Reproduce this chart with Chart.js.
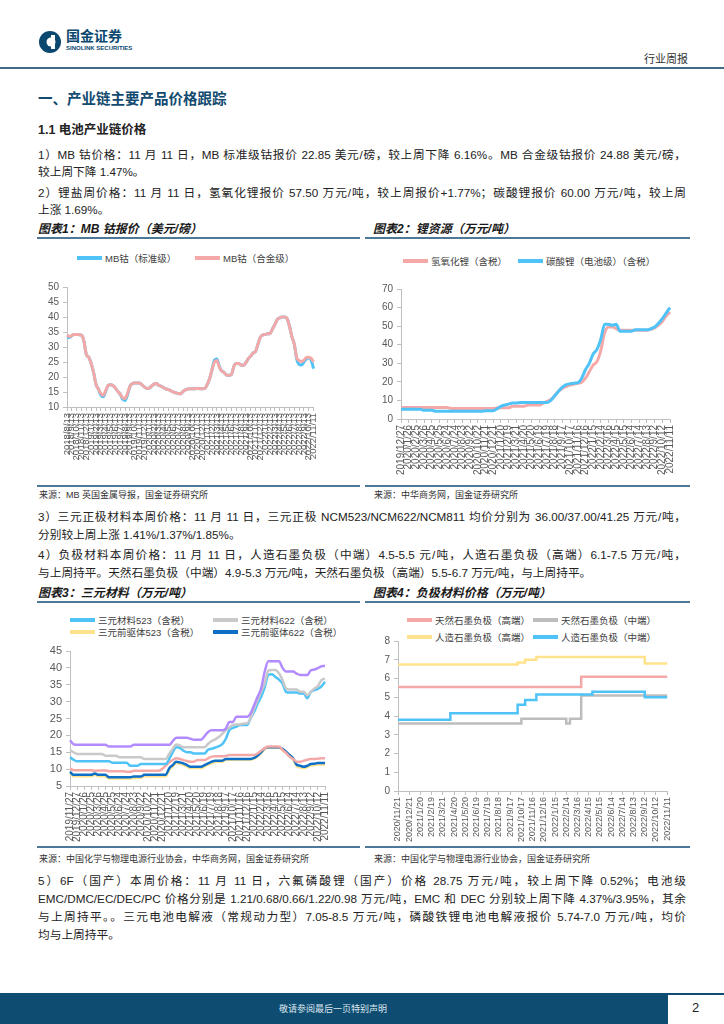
<!DOCTYPE html>
<html>
<head>
<meta charset="utf-8">
<script src="https://cdn.jsdelivr.net/npm/chart.js@4.4.0/dist/chart.umd.min.js"></script>
<style>
body { margin: 0; background: #fff; }
#page { position: relative; width: 724px; height: 1024px; overflow: hidden; background: #fff;
  font-family: "Liberation Sans", "Noto Sans CJK SC", sans-serif; color: #222; }
.a { position: absolute; white-space: nowrap; }
.txt { position: absolute; left: 38px; width: 648px; font-size: 11.7px; line-height: 14px; white-space: nowrap; }
.full { text-align: justify; text-align-last: justify; }
.cap { position: absolute; font-size: 12px; font-weight: bold; font-style: italic; line-height: 14px; color: #1a1a1a; }
.rule { position: absolute; height: 2px; background: #4d7898; }
.src { position: absolute; font-size: 9px; line-height: 10px; color: #333; }
.lg { position: absolute; font-size: 9.5px; line-height: 12px; color: #404040; white-space: nowrap; }
.lg i { display: inline-block; width: 25px; height: 4px; vertical-align: middle; margin-right: 3px; position: relative; top: -1px; }
.box { position: absolute; }
</style>
</head>
<body>
<div id="page">
  <!-- header -->
  <svg class="a" style="left:38px;top:30px" width="26" height="24">
    <circle cx="12" cy="12" r="11" fill="#0b4870"/>
    <circle cx="13" cy="12" r="4.5" fill="#fff"/>
    <rect x="13" y="5" width="4" height="14" fill="#fff"/>
  </svg>
  <div class="a" style="left:66px;top:27px;font-size:14px;font-weight:bold;color:#0b4870;line-height:16px;font-family:'Noto Sans CJK SC'">国金证券</div>
  <div class="a" style="left:66px;top:45px;font-size:6px;font-weight:bold;color:#0b4870;line-height:7px">SINOLINK SECURITIES</div>
  <div class="a" style="left:644px;top:52px;font-size:11px;color:#333;line-height:13px;font-family:'Noto Sans CJK SC'">行业周报</div>
  <div class="a" style="left:0;top:67px;width:724px;height:2px;background:#41698a"></div>

  <div class="a" style="left:38px;top:89px;font-size:14.5px;font-weight:bold;color:#134a70;line-height:18px;font-family:'Noto Sans CJK SC'">一、产业链主要产品价格跟踪</div>
  <div class="a" style="left:38px;top:123px;font-size:12.5px;font-weight:bold;color:#222;line-height:15px">1.1 电池产业链价格</div>

  <div class="txt full" style="top:148px">1）MB 钴价格：11 月 11 日，MB 标准级钴报价 22.85 美元/磅，较上周下降 6.16%。MB 合金级钴报价 24.88 美元/磅，</div>
  <div class="txt" style="top:165px">较上周下降 1.47%。</div>
  <div class="txt full" style="top:186px">2）锂盐周价格：11 月 11 日，氢氧化锂报价 57.50 万元/吨，较上周报价+1.77%；碳酸锂报价 60.00 万元/吨，较上周</div>
  <div class="txt" style="top:203px">上涨 1.69%。</div>

  <!-- captions row 1 -->
  <div class="cap" style="left:38px;top:222px">图表1：MB 钴报价（美元/磅）</div>
  <div class="rule" style="left:37px;top:237px;width:323px"></div>
  <div class="cap" style="left:373px;top:222px">图表2：锂资源（万元/吨）</div>
  <div class="rule" style="left:365px;top:237px;width:325px"></div>

  <div class="lg" style="left:77px;top:253px"><i style="background:#4fc3f7"></i>MB钴（标准级）</div>
  <div class="lg" style="left:195px;top:253px"><i style="background:#f4a9a8"></i>MB钴（合金级）</div>
  <div class="lg" style="left:403px;top:256px"><i style="background:#f4a9a8"></i>氢氧化锂（含税）</div>
  <div class="lg" style="left:518px;top:256px"><i style="background:#4fc3f7"></i>碳酸锂（电池级）（含税）</div>

  <div class="box" style="left:37px;top:270px;width:290px;height:195px"><canvas id="c1"></canvas></div>
  <div class="box" style="left:365px;top:270px;width:319px;height:208px"><canvas id="c2"></canvas></div>

  <div class="rule" style="left:37px;top:485px;width:323px"></div>
  <div class="rule" style="left:365px;top:485px;width:325px"></div>
  <div class="src" style="left:39px;top:490px">来源：MB 英国金属导报，国金证券研究所</div>
  <div class="src" style="left:374px;top:490px">来源：中华商务网，国金证券研究所</div>

  <div class="txt full" style="top:510px">3）三元正极材料本周价格：11 月 11 日，三元正极 NCM523/NCM622/NCM811 均价分别为 36.00/37.00/41.25 万元/吨，</div>
  <div class="txt" style="top:528px">分别较上周上涨 1.41%/1.37%/1.85%。</div>
  <div class="txt full" style="top:548px">4）负极材料本周价格：11 月 11 日，人造石墨负极（中端）4.5-5.5 元/吨，人造石墨负极（高端）6.1-7.5 万元/吨，</div>
  <div class="txt" style="top:566px">与上周持平。天然石墨负极（中端）4.9-5.3 万元/吨，天然石墨负极（高端）5.5-6.7 万元/吨，与上周持平。</div>

  <!-- captions row 2 -->
  <div class="cap" style="left:38px;top:586px">图表3：三元材料（万元/吨）</div>
  <div class="rule" style="left:37px;top:601px;width:323px"></div>
  <div class="cap" style="left:373px;top:586px">图表4：负极材料价格（万元/吨）</div>
  <div class="rule" style="left:365px;top:601px;width:325px"></div>

  <div class="lg" style="left:70px;top:615px"><i style="background:#4fc3f7"></i>三元材料523（含税）</div>
  <div class="lg" style="left:213px;top:615px"><i style="background:#c9c9c9"></i>三元材料622（含税）</div>
  <div class="lg" style="left:70px;top:627px"><i style="background:#ffe38c"></i>三元前驱体523（含税）</div>
  <div class="lg" style="left:213px;top:627px"><i style="background:#0f6fc6"></i>三元前驱体622（含税）</div>

  <div class="lg" style="left:407px;top:615px"><i style="background:#f4a9a8"></i>天然石墨负极（高端）</div>
  <div class="lg" style="left:533px;top:615px"><i style="background:#bdbdbd"></i>天然石墨负极（中端）</div>
  <div class="lg" style="left:407px;top:632px"><i style="background:#ffe38c"></i>人造石墨负极（高端）</div>
  <div class="lg" style="left:533px;top:632px"><i style="background:#4fc3f7"></i>人造石墨负极（中端）</div>

  <div class="box" style="left:37px;top:640px;width:302px;height:205px"><canvas id="c3"></canvas></div>
  <div class="box" style="left:365px;top:630px;width:315px;height:212px"><canvas id="c4"></canvas></div>

  <div class="rule" style="left:37px;top:846px;width:323px"></div>
  <div class="rule" style="left:365px;top:846px;width:325px"></div>
  <div class="src" style="left:39px;top:854px">来源：中国化学与物理电源行业协会，中华商务网，国金证券研究所</div>
  <div class="src" style="left:374px;top:854px">来源：中国化学与物理电源行业协会，国金证券研究所</div>

  <div class="txt full" style="top:874px">5）6F（国产）本周价格：11 月 11 日，六氟磷酸锂（国产）价格 28.75 万元/吨，较上周下降 0.52%；电池级</div>
  <div class="txt full" style="top:892px">EMC/DMC/EC/DEC/PC 价格分别是 1.21/0.68/0.66/1.22/0.98 万元/吨，EMC 和 DEC 分别较上周下降 4.37%/3.95%，其余</div>
  <div class="txt full" style="top:910px">与上周持平。。三元电池电解液（常规动力型）7.05-8.5 万元/吨，磷酸铁锂电池电解液报价 5.74-7.0 万元/吨，均价</div>
  <div class="txt" style="top:928px">均与上周持平。</div>

  <!-- footer -->
  <div class="a" style="left:0;top:993px;width:668px;height:31px;background:#0e4c71"></div>
  <div class="a" style="left:668px;top:993px;width:56px;height:2px;background:#0e4c71"></div>
  <div class="a" style="left:279px;top:1003px;font-size:9px;color:#dce6ee;line-height:11px;font-family:'Noto Sans CJK SC'">敬请参阅最后一页特别声明</div>
  <div class="a" style="left:692px;top:1000px;font-size:13px;color:#222;line-height:15px">2</div>
</div>

<script>
// tick labels
var mbTicks = ['2018/8/13','2018/9/13','2018/10/13','2018/11/13','2018/12/13',
  '2019/1/13','2019/2/13','2019/3/13','2019/4/13','2019/5/13','2019/6/13','2019/7/13','2019/8/13','2019/9/13','2019/10/13','2019/11/13','2019/12/13',
  '2020/1/13','2020/2/13','2020/3/13','2020/4/13','2020/5/13','2020/6/13','2020/7/13','2020/8/13','2020/9/13','2020/10/13','2020/11/13','2020/12/13',
  '2021/1/13','2021/2/13','2021/3/13','2021/4/13','2021/5/13','2021/6/13','2021/7/13','2021/8/13','2021/9/13','2021/10/13','2021/11/13','2021/12/13',
  '2022/1/13','2022/2/13','2022/3/13','2022/4/13','2022/5/13','2022/6/13','2022/7/13','2022/8/13','2022/9/13','2022/10/13','2022/11/11']
var liTicks = ['2019/12/27','2020/1/26','2020/2/25','2020/3/26','2020/4/25','2020/5/25','2020/6/24','2020/7/24','2020/8/23','2020/9/22','2020/10/22','2020/11/21',
  '2020/12/21','2021/1/20','2021/2/19','2021/3/21','2021/4/20','2021/5/20','2021/6/19','2021/7/19','2021/8/18','2021/9/17','2021/10/17','2021/11/16',
  '2021/12/16','2022/1/15','2022/2/14','2022/3/16','2022/4/15','2022/5/15','2022/6/14','2022/7/14','2022/8/13','2022/9/12','2022/10/12','2022/11/11']
var ncmTicks = ['2019/11/27','2019/12/27','2020/1/26','2020/2/25','2020/3/26','2020/4/25','2020/5/25','2020/6/24','2020/7/24','2020/8/23','2020/9/22','2020/10/22','2020/11/21',
  '2020/12/21','2021/1/20','2021/2/19','2021/3/21','2021/4/20','2021/5/20','2021/6/19','2021/7/19','2021/8/18','2021/9/17','2021/10/17','2021/11/16',
  '2021/12/16','2022/1/15','2022/2/14','2022/3/16','2022/4/15','2022/5/15','2022/6/14','2022/7/14','2022/8/13','2022/9/12','2022/10/12','2022/11/11']
var anodeTicks = ['2020/11/21','2020/12/21','2021/1/20','2021/2/19','2021/3/21','2021/4/20','2021/5/20','2021/6/19','2021/7/19','2021/8/18','2021/9/17','2021/10/17','2021/11/16',
  '2021/12/16','2022/1/15','2022/2/14','2022/3/16','2022/4/15','2022/5/15','2022/6/14','2022/7/14','2022/8/13','2022/9/12','2022/10/12','2022/11/11']

// chart 1: MB cobalt, USD/lb (half-month points)
var mbStandard = [33.3,33.2,33.8,34.2,34.2,34.1,33.9,32.0,27.5,26.6,24.5,21.5,17.5,16.0,14.0,13.4,15.2,17.2,17.4,17.2,
  16.3,15.2,14.3,12.6,12.2,14.0,16.8,17.8,18.0,18.0,18.0,17.4,16.7,16.2,16.3,17.0,17.6,17.8,17.2,16.9,
  16.4,16.0,15.8,15.4,15.0,14.7,14.5,14.4,15.2,15.7,16.0,16.1,16.1,16.1,16.2,16.1,16.1,16.2,17.5,19.5,
  22.5,25.6,26.0,23.5,22.0,21.5,20.6,20.6,20.8,23.5,24.5,24.5,24.0,23.9,24.8,26.1,27.0,28.0,28.5,31.0,
  33.3,34.0,34.2,34.4,34.5,36.0,37.5,39.2,39.7,40.0,40.0,39.5,37.0,33.5,31.0,26.0,24.2,24.0,25.0,26.0,
  26.4,25.5,22.8]
var mbAlloy = [34.0,33.5,33.8,34.2,34.2,34.1,33.9,32.0,27.5,26.6,24.5,21.5,17.5,16.0,14.5,13.9,15.5,17.2,17.4,17.2,
  16.3,15.2,14.3,13.1,12.8,14.5,16.8,17.8,18.0,18.0,18.0,17.4,16.7,16.2,16.3,17.0,17.6,17.8,17.2,16.9,
  16.4,16.0,15.8,15.4,15.0,14.7,14.5,14.4,15.2,15.7,16.0,16.1,16.1,16.1,16.2,16.1,16.1,16.2,17.5,19.5,
  22.5,25.0,25.5,23.3,22.0,21.5,20.6,20.6,20.8,23.5,24.5,24.5,24.0,23.9,24.8,26.1,27.0,28.0,28.5,31.0,
  33.3,34.0,34.2,34.4,34.5,36.0,37.5,39.2,39.7,40.0,40.0,39.5,37.0,33.5,31.0,26.5,25.5,25.2,25.6,26.5,
  26.6,26.2,25.0]

// chart 2: lithium, 10k CNY/t
var liHydroxide = [6.2,6.2,6.2,6.2,6.2,6.2,6.2,6.2,6.2,6.2,6.2,6.2,6.2,
  5.7,5.7,5.7,5.7,5.7,5.7,5.7,5.7,5.7,5.7,5.7,5.7,
  6.0,6.0,6.0,6.0,6.8,6.8,6.8,6.8,7.5,7.5,7.5,7.5,
  8.5,9.5,10.5,12.5,15,16.5,17.5,18.3,18.8,19.2,19.8,22,25.5,29,31,37,46.5,49.6,49.6,48.7,
  47.8,47.8,47.8,47.8,47.8,47.8,47.8,47.8,
  48.3,49,50.5,52.5,55.5,57.5]
var liCarbonate = [5.2,5.2,5.2,5.2,5.2,5.2,4.7,4.7,4.7,
  4.2,4.2,4.2,4.2,4.2,4.2,4.2,4.2,4.2,4.2,4.2,4.2,4.2,
  4.5,4.5,4.5,5.5,6.8,7.5,8.0,8.6,8.6,
  8.9,8.9,8.9,8.9,8.9,8.9,8.9,8.9,
  10.0,12.5,15,17.2,18.5,19.0,19.3,19.5,22,26.5,30,35,37.5,43,51,51,50.5,51,47.2,
  47.3,47.3,47.3,48.0,48.0,48.0,48.0,
  48.6,49.5,51.5,54,57,60]

// chart 3: ternary materials, 10k CNY/t
var ncm523 = [13.5,12.8,12.3,12.3,12.3,12.3,12.3,12.3,12.3,12.3,12.3,12.3,
  11.9,11.9,11.9,11.9,11.9,11.0,11.0,11.0,11.5,11.5,11.5,11.5,11.5,11.5,11.5,11.5,
  13,15,16.5,16.3,15.5,15.0,15.0,14.6,14.6,14.6,14.6,
  15.8,16.0,16.4,16.8,17.4,19,21.6,22.2,22.6,23.1,23.1,23.1,25.1,27,29.5,31.5,34.4,37.9,38.1,37.3,36.5,35.4,32.9,
  32.7,32.7,32.7,32.4,32.4,31.0,32.9,33.4,33.8,34.5,35.9]
var ncm622 = [15.7,15.0,14.5,14.5,14.5,14.5,14.5,14.5,14.5,14.5,
  14.0,14.0,14.0,14.0,13.5,13.5,13.5,13.5,13.5,13.5,13.5,13.0,13.0,13.0,13.0,13.0,13.0,13.0,
  14.5,16,17.3,17.0,16.5,16.5,16.5,16.5,16.5,16.5,16.5,
  17.5,18.3,18.8,19.5,20.5,21.6,22.3,23.1,23.2,23.3,23.5,23.6,25,28,30.5,33,35.5,39.2,39.4,39.4,38.4,36.4,33.9,
  33.6,33.6,33.6,32.9,32.9,31.9,32.9,33.9,34.6,36.4,36.8]
var pre523 = [8.8,7.9,7.9,7.9,7.9,7.9,7.9,8.3,7.9,7.9,7.9,
  7.2,7.2,7.2,7.2,7.2,7.2,7.2,7.4,7.4,7.4,7.9,7.9,7.9,7.9,7.9,7.9,7.9,
  9.8,10.8,11.8,11.6,11.3,10.8,10.3,10.3,10.3,10.3,10.8,11.3,11.8,12.2,12.2,12.2,
  12.8,12.8,12.8,12.8,12.8,12.8,12.8,12.8,13.1,13.8,14.8,16.0,16.3,16.3,16.3,16.3,
  15.7,14.8,13.8,12.8,10.9,10.5,10.3,10.6,11.1,11.2,11.4,11.4,11.4]
var pre622 = [9.2,8.3,8.3,8.3,8.3,8.3,8.3,8.7,8.3,8.3,8.3,
  7.6,7.6,7.6,7.6,7.6,7.6,7.6,7.8,7.8,7.8,8.3,8.3,8.3,8.3,8.3,8.3,8.3,
  10.2,11.2,12.2,12.0,11.7,11.2,10.7,10.7,10.7,10.7,11.2,11.7,12.2,12.5,12.5,12.5,
  13.0,13.0,13.0,13.0,13.0,13.0,13.0,13.0,13.3,14,15,16.2,16.5,16.5,16.5,16.5,
  16,15.2,14.2,13.2,11.3,11,10.7,11,11.5,11.6,11.8,11.8,11.8]
var ncm811 = [18.5,17.4,17.2,17.2,17.2,17.2,17.2,17.2,17.2,17.2,17.2,
  16.7,16.7,16.7,16.7,16.7,16.7,16.7,
  17.2,17.2,17.2,17.2,17.2,17.2,17.2,17.2,17.2,17.2,17.2,
  18.3,19.3,19.3,19.3,19.3,19.0,18.7,18.7,18.7,19.8,21.0,21.5,21.5,21.5,21.5,22,24,24,
  25.5,25.5,25.5,25.5,26.5,29,31.5,34,39,42,42,42,42,40,38.9,38.9,38.9,38.3,
  37.9,37.9,37.9,39.3,39.5,39.9,40.5,40.6]
var pre811 = [10.2,9.7,9.7,9.7,9.7,9.7,9.7,9.5,9.6,9.6,9.6,
  9.4,9.4,9.4,9.4,9.4,9.2,9.2,9.5,9.5,9.5,9.5,9.5,9.5,9.5,9.5,
  10,11,12,12.7,13.2,13,12.7,12.4,12.2,12.2,12.7,12.7,12.7,13.2,13.7,13.8,13.8,13.8,13.9,
  14.2,14.2,14.2,14.2,14.2,14.2,14.2,14.2,14.7,15.5,16.2,16.7,16.7,16.7,16.7,
  15.7,14.8,13.7,13,12.2,12.2,12.5,12.8,13.0,13.0,13.1,13.2,13.2]

// chart 4: anode materials, 10k CNY/t (10-day points)
var naturalHigh = [5.55,5.55,5.55,5.55,5.55,5.55,5.55,5.55,5.55,5.55,5.55,5.55,5.55,5.55,5.55,5.55,5.55,5.55,5.55,5.55,
  5.55,5.55,5.55,5.55,5.55,5.55,5.55,5.55,5.55,5.55,5.55,5.55,5.55,5.55,5.55,5.55,5.55,5.55,5.55,5.55,
  5.55,5.55,5.55,5.55,5.55,5.55,5.55,5.55,5.55,
  6.1,6.1,6.1,6.1,6.1,6.1,6.1,6.1,6.1,6.1,6.1,6.1,6.1,6.1,6.1,6.1,6.1,6.1,6.1,6.1,6.1,6.1,6.1,6.1]
var naturalMid = [3.6,3.6,3.6,3.6,3.6,3.6,3.6,3.6,3.6,3.6,3.6,3.6,3.6,3.6,3.6,3.6,3.6,3.6,3.6,3.6,
  3.6,3.6,3.6,3.6,3.6,3.6,3.6,3.6,3.6,3.6,3.6,3.6,3.6,
  3.85,3.85,3.85,3.85,3.85,3.85,3.85,3.85,3.85,3.85,3.85,3.85,3.6,3.85,3.85,3.85,
  5.1,5.1,5.1,5.1,5.1,5.1,5.1,5.1,5.1,5.1,5.1,5.1,5.1,5.1,5.1,5.1,5.1,5.1,5.1,5.1,5.1,5.1,5.1,5.1]
var artificialHigh = [6.75,6.75,6.75,6.75,6.75,6.75,6.75,6.75,6.75,6.75,6.75,6.75,6.75,6.75,6.75,6.75,
  6.75,6.75,6.75,6.75,6.75,6.75,6.75,6.75,6.75,6.75,6.75,6.75,6.75,6.75,6.75,6.75,
  6.85,6.85,7.0,7.0,7.0,
  7.15,7.15,7.15,7.15,7.15,7.15,7.15,7.15,7.15,7.15,7.15,7.15,7.15,7.15,7.15,7.15,7.15,7.15,7.15,7.15,
  7.15,7.15,7.15,7.15,7.15,7.15,7.15,7.15,7.15,
  6.8,6.8,6.8,6.8,6.8,6.8,6.8]
var artificialMid = [3.8,3.8,3.8,3.8,3.8,3.8,3.8,3.8,3.8,3.8,3.8,3.8,3.8,3.8,
  4.15,4.15,4.15,4.15,4.15,4.15,4.15,4.15,4.15,4.15,4.15,4.15,4.15,4.15,4.15,4.15,4.15,4.15,
  4.6,4.6,4.85,4.85,4.85,
  5.15,5.15,5.15,5.15,5.15,5.15,5.15,5.15,5.15,5.15,5.15,5.15,5.15,5.15,5.15,
  5.3,5.3,5.3,5.3,5.3,5.3,5.3,5.3,5.3,5.3,5.3,5.3,5.3,5.3,
  5.0,5.0,5.0,5.0,5.0,5.0,5.0]

// put the tick labels on every n-th point, blanks between
function spread(ticks, step) {
  var out = []
  ticks.forEach(function (t, i) {
    out.push(t)
    if (i < ticks.length - 1) for (var k = 1; k < step; k++) out.push('')
  })
  return out
}

var axisColor = '#bfbfbf'
var tickColor = '#595959'

function line(label, data, color, width, order, extra) {
  var ds = { label: label, data: data, borderColor: color, backgroundColor: color, borderWidth: width,
    pointRadius: 0, fill: false, order: order, cubicInterpolationMode: 'monotone' }
  if (extra) Object.assign(ds, extra)
  return ds
}

function drawChart(id, labels, datasets, y, g) {
  var ctx = document.getElementById(id).getContext('2d')
  return new Chart(ctx, {
    type: 'line',
    data: { labels: labels, datasets: datasets },
    options: {
      responsive: true, maintainAspectRatio: false, animation: false,
      layout: { padding: { top: g.top, right: g.right, left: 0, bottom: 0 } },
      plugins: { legend: { display: false }, tooltip: { enabled: false } },
      scales: {
        x: {
          type: 'category', offset: false,
          border: { display: true, color: axisColor, width: 1 },
          grid: { display: true, drawOnChartArea: false, drawTicks: true, tickLength: 4, color: axisColor },
          ticks: {
            autoSkip: false, maxRotation: 90, minRotation: 90, padding: 2, color: tickColor,
            font: { family: 'Liberation Sans', size: g.xFont },
            callback: function (v) { var l = this.getLabelForValue(v); return l === '' ? null : l }
          },
          afterFit: function (s) { s.height = g.xh }
        },
        y: {
          min: y.min, max: y.max,
          border: { display: true, color: axisColor, width: 1 },
          grid: { display: true, drawOnChartArea: false, drawTicks: true, tickLength: 4, color: axisColor },
          ticks: { stepSize: y.step, padding: 4, color: tickColor, font: { family: 'Liberation Sans', size: g.yFont } },
          afterFit: function (s) { s.width = g.yw }
        }
      }
    }
  })
}

drawChart('c1', spread(mbTicks, 2), [
  line('MB钴（标准级）', mbStandard, '#4fc3f7', 3, 2),
  line('MB钴（合金级）', mbAlloy, '#f4a9a8', 3, 1)
], { min: 10, max: 50, step: 5 }, { top: 17, right: 7, xh: 58, yw: 30, xFont: 9.5, yFont: 10 })

drawChart('c2', spread(liTicks, 2), [
  line('氢氧化锂（含税）', liHydroxide, '#f4a9a8', 3, 2),
  line('碳酸锂（电池级）（含税）', liCarbonate, '#4fc3f7', 3, 1)
], { min: 0, max: 70, step: 10 }, { top: 19, right: 7, xh: 59, yw: 36, xFont: 10, yFont: 10 })

drawChart('c3', spread(ncmTicks, 2), [
  line('三元材料523（含税）', ncm523, '#4fc3f7', 2.5, 3),
  line('三元材料622（含税）', ncm622, '#c9c9c9', 2.5, 2),
  line('三元前驱体523（含税）', pre523, '#ffe38c', 2.5, 6),
  line('三元前驱体622（含税）', pre622, '#0f6fc6', 2.5, 5),
  line('三元材料811（含税）', ncm811, '#b28cff', 2.5, 1),
  line('三元前驱体811（含税）', pre811, '#f4a9a8', 2.5, 4)
], { min: 5, max: 45, step: 5 }, { top: 11, right: 7, xh: 59, yw: 33, xFont: 10, yFont: 11 })

drawChart('c4', spread(anodeTicks, 3), [
  line('天然石墨负极（高端）', naturalHigh, '#f4a9a8', 2.5, 1, { stepped: true }),
  line('天然石墨负极（中端）', naturalMid, '#bdbdbd', 2.5, 4, { stepped: true }),
  line('人造石墨负极（高端）', artificialHigh, '#ffe38c', 2.5, 2, { stepped: true }),
  line('人造石墨负极（中端）', artificialMid, '#4fc3f7', 2.5, 3, { stepped: true })
], { min: 0, max: 8, step: 1 }, { top: 11, right: 7, xh: 51, yw: 33, xFont: 9, yFont: 10 })
</script>
</body>
</html>
